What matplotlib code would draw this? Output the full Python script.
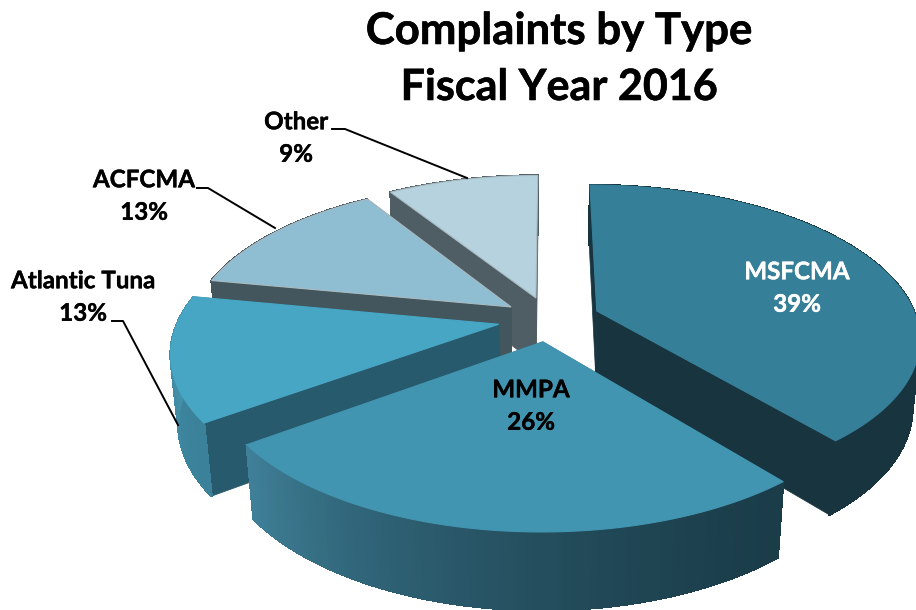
import numpy as np
import matplotlib
matplotlib.use("Agg")
import matplotlib.pyplot as plt
import matplotlib.patheffects as pe
from matplotlib.colors import to_rgb
from matplotlib.patches import Polygon

# Complaints by type, percent
categories = ["MSFCMA", "MMPA", "Atlantic Tuna", "ACFCMA", "Other"]
shares = [39, 26, 13, 13, 9]

# Slice styling, same order as categories
explode = [0.16, 0.15, 0.16, 0.145, 0.15]
top_colors = ["#367f98", "#4295b0", "#47a6c4", "#8fbdd2", "#b6d2de"]
side_colors = ["#17343f", "#2a6075", "#275a6c", "#44565d", "#4f5e64"]
rim_left = ["#17343f", "#3f8098", "#4c9ab5", "#44565d", "#4f5e64"]
rim_right = ["#17343f", "#1b3d4a", "#3a8199", "#44565d", "#4f5e64"]
draw_order = [4, 3, 2, 0, 1]

# Projection of the pie plane on to the page
cx, cy = 549, 319
scale_x, scale_y = 320, 149.6
persp = 0.168
depth = 69
shrink = 0.02


def project(x, y, z=0.0):
    w = 1 + persp * y + shrink * z
    return cx + scale_x * x / w, cy - scale_y * y / w + depth * z / w


def blend(c1, c2, t):
    a, b = np.array(to_rgb(c1)), np.array(to_rgb(c2))
    return tuple(a + (b - a) * t)


fig = plt.figure(figsize=(9.16, 6.1), dpi=100)
ax = fig.add_axes([0, 0, 1, 1])
ax.set_xlim(0, 916)
ax.set_ylim(610, 0)
ax.axis("off")

edges = np.concatenate([[0], np.cumsum(shares)]) / sum(shares) * 2 * np.pi

for i in draw_order:
    a0, a1 = edges[i], edges[i + 1]
    mid = (a0 + a1) / 2
    ox, oy = explode[i] * np.sin(mid), explode[i] * np.cos(mid)
    angles = np.linspace(a0, a1, 90)
    px = ox + np.sin(angles)
    py = oy + np.cos(angles)

    # flat cut faces
    for a in (a0, a1):
        ex, ey = ox + np.sin(a), oy + np.cos(a)
        wall = [project(ox, oy), project(ex, ey), project(ex, ey, 1), project(ox, oy, 1)]
        ax.add_patch(Polygon(wall, fc=side_colors[i], ec=side_colors[i], lw=0.5))

    # outer rim, shaded from the left end to the right end
    for j in range(len(angles) - 1):
        quad = [
            project(px[j], py[j]),
            project(px[j + 1], py[j + 1]),
            project(px[j + 1], py[j + 1], 1),
            project(px[j], py[j], 1),
        ]
        col = blend(rim_right[i], rim_left[i], (j / (len(angles) - 2)) ** 1.6)
        ax.add_patch(Polygon(quad, fc=col, ec=col, lw=1.0, antialiased=False))

    # top face
    top = [project(ox, oy)] + [project(a, b) for a, b in zip(px, py)]
    edge = "#a9bcc4" if i >= 3 else top_colors[i]
    ax.add_patch(Polygon(top, fc=top_colors[i], ec=edge, lw=0.8))

# Leader lines
ax.plot([332, 345, 467], [129, 129, 178], color="black", lw=1.4)
ax.plot([197, 208, 275], [188, 188, 228], color="black", lw=1.4)
ax.plot([112, 123, 178], [321, 321, 425], color="black", lw=1.4)

font = ["Lato", "DejaVu Sans"]
thick = [pe.withStroke(linewidth=0.4, foreground="black")]
ax.text(559, 31, "Complaints by Type", ha="center", va="center", fontsize=31.5,
        fontweight="bold", family=font, path_effects=thick)
ax.text(559, 87, "Fiscal Year 2016", ha="center", va="center", fontsize=31,
        fontweight="bold", family=font, path_effects=thick)

label_pos = [(797, 288), (531, 406), (83, 297), (144, 196), (296, 138)]
label_colors = ["white", "black", "black", "black", "black"]
for name, share, (lx, ly), col in zip(categories, shares, label_pos, label_colors):
    ax.text(lx, ly, f"{name}\n{share}%", ha="center", va="center", fontsize=17.4,
            fontweight="bold", family=font, color=col, linespacing=1.5,
            path_effects=[pe.withStroke(linewidth=0.3, foreground=col)])

fig.savefig("out.png", dpi=100)
